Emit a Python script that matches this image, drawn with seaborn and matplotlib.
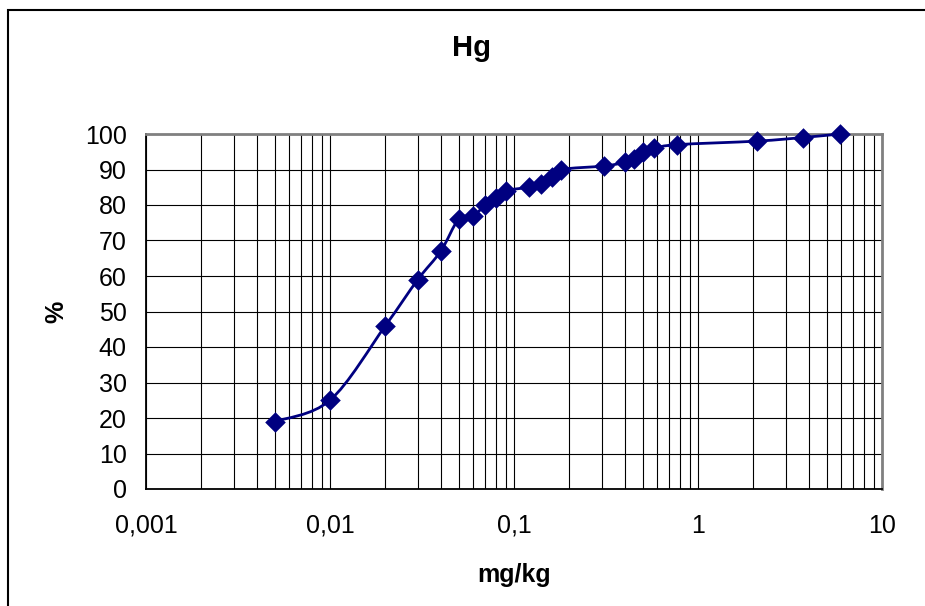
import numpy as np
import matplotlib
matplotlib.use("Agg")
import matplotlib.pyplot as plt
import seaborn as sns
import pandas as pd
from matplotlib.path import Path
from matplotlib.patches import PathPatch, Rectangle
from matplotlib.ticker import LogLocator, FixedLocator, FixedFormatter

# data
conc = [0.005, 0.01, 0.02, 0.03, 0.04, 0.05, 0.06, 0.07, 0.08, 0.09,
        0.12, 0.14, 0.16, 0.18, 0.31, 0.4, 0.45, 0.5, 0.58, 0.77,
        2.1, 3.7, 5.9]
pct = [19, 25, 46, 59, 67, 76, 77, 80, 82, 84,
       85, 86, 88, 90, 91, 92, 93, 95, 96, 97,
       98, 99, 100]
xticks = [0.001, 0.01, 0.1, 1, 10]
xtick_labels = ["0,001", "0,01", "0,1", "1", "10"]
yticks = list(range(0, 101, 10))

navy = "#000080"

sns.set_style("white", {"text.color": "black", "axes.labelcolor": "black",
                        "xtick.color": "black", "ytick.color": "black"})
plt.rcParams["font.family"] = ["Liberation Sans", "DejaVu Sans"]

df = pd.DataFrame({"mg/kg": conc, "%": pct})

fig = plt.figure(figsize=(9.25, 6.06), dpi=100)
ax = fig.add_axes([146 / 925, 1 - 489 / 606, (882 - 146) / 925, (489 - 134) / 606])

ax.set_xscale("log")
ax.set_xlim(0.001, 10)
ax.set_ylim(0, 100)

# smoothed line (Catmull-Rom -> cubic bezier in log-x space)
lx = np.log10(df["mg/kg"].values)
ly = df["%"].values.astype(float)
pts = np.column_stack([lx, ly])
n = len(pts)
verts = [pts[0]]
codes = [Path.MOVETO]
for i in range(n - 1):
    p0 = pts[i - 1] if i > 0 else pts[i]
    p1 = pts[i]
    p2 = pts[i + 1]
    p3 = pts[i + 2] if i + 2 < n else pts[i + 1]
    c1 = p1 + (p2 - p0) / 6
    c2 = p2 - (p3 - p1) / 6
    verts += [c1, c2, p2]
    codes += [Path.CURVE4] * 3
verts = np.array(verts)
verts[:, 0] = 10 ** verts[:, 0]
ax.add_patch(PathPatch(Path(verts, codes), fill=False, ec=navy, lw=2,
                       zorder=3, clip_on=False))

sns.scatterplot(data=df, x="mg/kg", y="%", marker="D", s=110, color=navy,
                edgecolor=navy, linewidth=0, zorder=4, ax=ax, legend=False,
                clip_on=False)

# grid
ax.xaxis.set_major_locator(FixedLocator(xticks))
ax.xaxis.set_major_formatter(FixedFormatter(xtick_labels))
ax.xaxis.set_minor_locator(LogLocator(base=10, subs=np.arange(2, 10), numticks=20))
ax.set_yticks(yticks)
ax.grid(True, which="both", axis="x", color="black", lw=0.8)
ax.grid(True, which="major", axis="y", color="black", lw=0.8)
ax.set_axisbelow(True)

ax.tick_params(axis="both", which="major", direction="out", length=6, width=1,
               color="black", labelcolor="black", labelsize=18, pad=8)
ax.tick_params(axis="x", which="major", pad=12)
ax.tick_params(axis="x", which="minor", length=0)

for side in ["top", "right"]:
    ax.spines[side].set_color("#808080")
    ax.spines[side].set_linewidth(2)
for side in ["left", "bottom"]:
    ax.spines[side].set_color("black")
    ax.spines[side].set_linewidth(1.3)

fig.text(472 / 925, 1 - 48 / 606, "Hg", ha="center", va="center",
         fontsize=21, fontweight="bold", color="black")
ax.set_xlabel("mg/kg", fontsize=18, fontweight="bold", labelpad=18, color="black")
ax.set_ylabel("%", fontsize=18, fontweight="bold", labelpad=12, color="black")

# outer chart frame (cut off at right/bottom like the reference)
fig.patches.append(Rectangle((8 / 925, -0.1), 1.2, 1 - 10 / 606 + 0.1,
                             transform=fig.transFigure, fill=False,
                             ec="black", lw=1.5))

fig.savefig("out.png", dpi=100)
